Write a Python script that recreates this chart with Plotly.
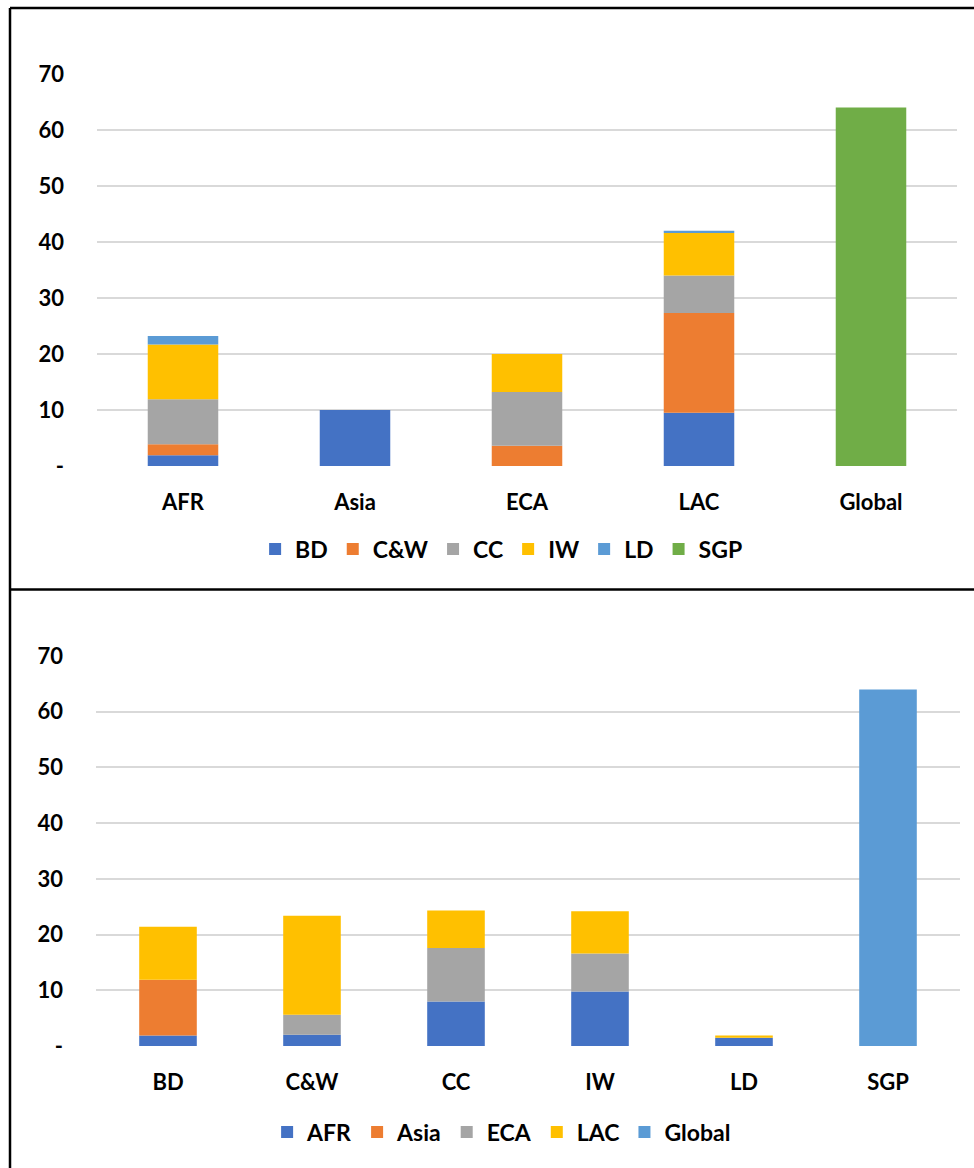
import plotly.graph_objects as go

# ---- data ----
regions = ["AFR", "Asia", "ECA", "LAC", "Global"]
themes = ["BD", "C&W", "CC", "IW", "LD", "SGP"]

# values per theme, in region order (AFR, Asia, ECA, LAC, Global)
BD = [1.9, 10.0, 0.0, 9.5, 0.0]
CW = [2.0, 0.0, 3.6, 17.8, 0.0]
CC = [8.0, 0.0, 9.6, 6.7, 0.0]
IW = [9.8, 0.0, 6.8, 7.6, 0.0]
LD = [1.5, 0.0, 0.0, 0.4, 0.0]
SGP = [0.0, 0.0, 0.0, 0.0, 64.0]

theme_values = [BD, CW, CC, IW, LD, SGP]
theme_colors = ["#4472C4", "#ED7D31", "#A5A5A5", "#FFC000", "#5B9BD5", "#70AD47"]
region_colors = ["#4472C4", "#ED7D31", "#A5A5A5", "#FFC000", "#5B9BD5"]

y_tickvals = [0, 10, 20, 30, 40, 50, 60, 70]
y_ticktext = ["-", "10", "20", "30", "40", "50", "60", "70"]

W, H = 974, 1168
FONT = dict(family="Lato, Calibri, Arial", size=22, color="#000000", weight="bold")
LEGFONT = dict(family="Lato, Calibri, Arial", size=23, color="#000000", weight="bold")

fig = go.Figure()

# top panel: regions on x, stacked by theme
for name, vals, col in zip(themes, theme_values, theme_colors):
    fig.add_trace(go.Bar(
        x=regions, y=vals, name=name, marker=dict(color=col, line=dict(width=0)),
        xaxis="x", yaxis="y", legend="legend", width=0.41,
    ))

# bottom panel: themes on x, stacked by region
for i, (rname, col) in enumerate(zip(regions, region_colors)):
    vals = [tv[i] for tv in theme_values]
    fig.add_trace(go.Bar(
        x=themes, y=vals, name=rname, marker=dict(color=col, line=dict(width=0)),
        xaxis="x2", yaxis="y2", legend="legend2", width=0.40,
    ))

def py(px):
    return 1 - px / H

def pxx(px):
    return px / W

axis_common = dict(showline=False, zeroline=False, tickfont=FONT, fixedrange=True,
                   automargin=False)

fig.update_layout(
    template="none",
    width=W, height=H, margin=dict(l=0, r=0, t=0, b=0, pad=0, autoexpand=False),
    paper_bgcolor="white", plot_bgcolor="white",
    barmode="relative", bargap=0.59,
    font=FONT,
    xaxis=dict(domain=[pxx(97), pxx(957)], anchor="y", showgrid=False,
               ticks="", ticklabelstandoff=21, **axis_common),
    yaxis=dict(domain=[py(466), py(74)], anchor="x", range=[0, 70],
               tickvals=y_tickvals, ticktext=y_ticktext,
               showgrid=True, gridcolor="#D9D9D9", gridwidth=2,
               ticks="", ticklabelstandoff=32, **axis_common),
    xaxis2=dict(domain=[pxx(96), pxx(960)], anchor="y2", showgrid=False,
                ticks="", ticklabelstandoff=21, **axis_common),
    yaxis2=dict(domain=[py(1046), py(656)], anchor="x2", range=[0, 70],
                tickvals=y_tickvals, ticktext=y_ticktext,
                showgrid=True, gridcolor="#D9D9D9", gridwidth=2,
                ticks="", ticklabelstandoff=32, **axis_common),
    legend=dict(orientation="h", x=0.515, xanchor="center", y=py(549), yanchor="middle",
                font=LEGFONT, bgcolor="rgba(0,0,0,0)", itemclick=False, itemdoubleclick=False),
    legend2=dict(orientation="h", x=0.515, xanchor="center", y=py(1132), yanchor="middle",
                 font=LEGFONT, bgcolor="rgba(0,0,0,0)", itemclick=False, itemdoubleclick=False),
    showlegend=True,
)

# panel borders
line = dict(color="black", width=2.5)
fig.add_shape(type="line", xref="paper", yref="paper", x0=pxx(10), x1=1.0, y0=py(8), y1=py(8), line=line)
fig.add_shape(type="line", xref="paper", yref="paper", x0=pxx(10), x1=pxx(10), y0=py(8), y1=0, line=line)
fig.add_shape(type="line", xref="paper", yref="paper", x0=pxx(10), x1=1.0, y0=py(589.5), y1=py(589.5), line=line)

fig.write_html("out.html")
